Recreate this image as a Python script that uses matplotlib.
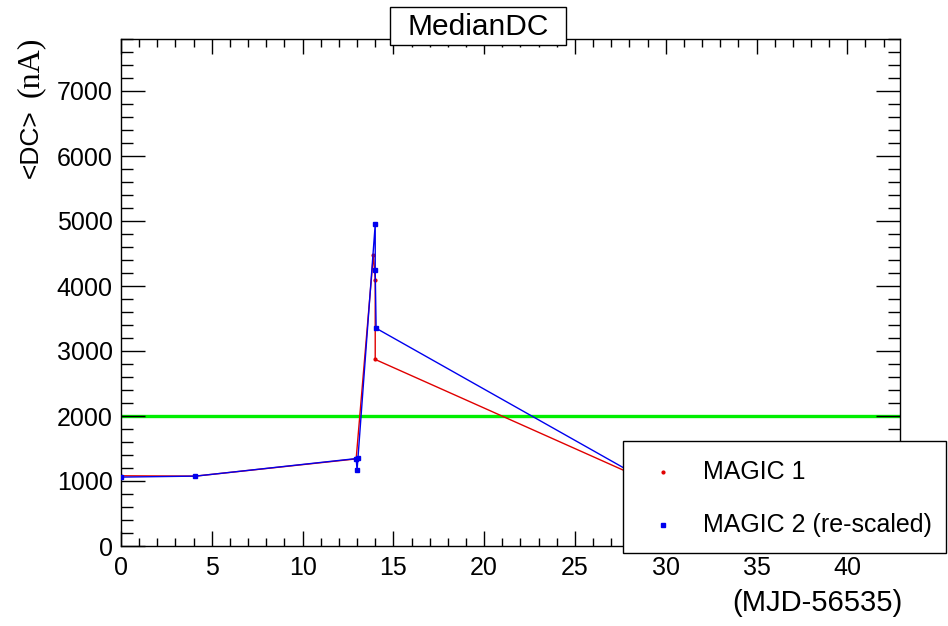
import matplotlib
matplotlib.use("Agg")
import matplotlib.pyplot as plt
from matplotlib.lines import Line2D
from matplotlib.patches import Rectangle
from matplotlib.ticker import MultipleLocator

plt.rcParams['font.family'] = ['Liberation Sans', 'DejaVu Sans']

# Median DC current per night (MJD - 56535)
magic1_days = [0.0, 4.1, 12.95, 13.9, 14.0, 14.0, 29.0]
magic1_dc = [1080, 1075, 1340, 4480, 4100, 2870, 1000]

magic2_days = [0.0, 4.1, 12.95, 13.0, 13.05, 14.0, 14.0, 14.05, 29.0]
magic2_dc = [1060, 1075, 1345, 1165, 1355, 4950, 4240, 3350, 995]

series_labels = ['MAGIC 1', 'MAGIC 2 (re-scaled)']
threshold = 2000
x_range = (0, 42.9)
y_range = (0, 7800)

RED = '#e00000'
BLUE = '#0000ee'

W, H = 948, 626
fig = plt.figure(figsize=(W / 100, H / 100), dpi=100)


def fx(px):
    return px / W


def fy(py):
    return 1 - py / H


ax = fig.add_axes([fx(121), fy(546), fx(900) - fx(121), fy(39) - fy(546)])

ax.axhline(threshold, color='#00ee00', lw=2.4, zorder=1)
ax.plot(magic1_days, magic1_dc, color=RED, lw=1.0, marker='o',
        ms=2.0, zorder=2)
ax.plot(magic2_days, magic2_dc, color=BLUE, lw=1.0, marker='s',
        ms=3.5, zorder=3)

ax.set_xlim(*x_range)
ax.set_ylim(*y_range)

ax.xaxis.set_major_locator(MultipleLocator(5))
ax.xaxis.set_minor_locator(MultipleLocator(1))
ax.yaxis.set_major_locator(MultipleLocator(1000))
ax.yaxis.set_minor_locator(MultipleLocator(200))

ax.tick_params(axis='both', which='both', direction='in', top=True,
               right=True, width=1.0, labelsize=18, colors='black')
ax.tick_params(axis='x', which='major', length=11, pad=7)
ax.tick_params(axis='x', which='minor', length=5.5)
ax.tick_params(axis='y', which='major', length=17, pad=6)
ax.tick_params(axis='y', which='minor', length=8.5)
for sp in ax.spines.values():
    sp.set_linewidth(1.0)

# Title in a framed box straddling the top edge of the frame
fig.add_artist(Rectangle((fx(390), fy(45)), fx(566) - fx(390), fy(7) - fy(45),
                         transform=fig.transFigure, fc='white', ec='black',
                         lw=1.0, zorder=5))
fig.text(fx(478), fy(27), 'MedianDC', ha='center', va='center',
         fontsize=21.5, zorder=6)

# Axis titles
fig.text(fx(902), fy(603), '(MJD-56535)', ha='right', va='center',
         fontsize=21)
fig.text(fx(30), fy(37), '(nA)', rotation=90, ha='center', va='top',
         fontsize=23, family='Liberation Serif')
fig.text(fx(31), fy(178), '<DC>', rotation=90, ha='center', va='bottom',
         fontsize=19)

# Legend panel in the lower right corner
fig.add_artist(Rectangle((fx(623), fy(553)), fx(946) - fx(623),
                         fy(441) - fy(553), transform=fig.transFigure,
                         fc='white', ec='black', lw=1.0, zorder=5))
legend_rows = [472, 525]
legend_styles = [dict(marker='o', ms=2.0, color=RED),
                 dict(marker='s', ms=3.0, color=BLUE)]
for row, label, style in zip(legend_rows, series_labels, legend_styles):
    fig.add_artist(Line2D([fx(663)], [fy(row)], ls='none',
                          transform=fig.transFigure, zorder=6, **style))
    fig.text(fx(703), fy(row), label, ha='left', va='center', fontsize=18,
             zorder=6)

fig.savefig('out.png', dpi=100)
